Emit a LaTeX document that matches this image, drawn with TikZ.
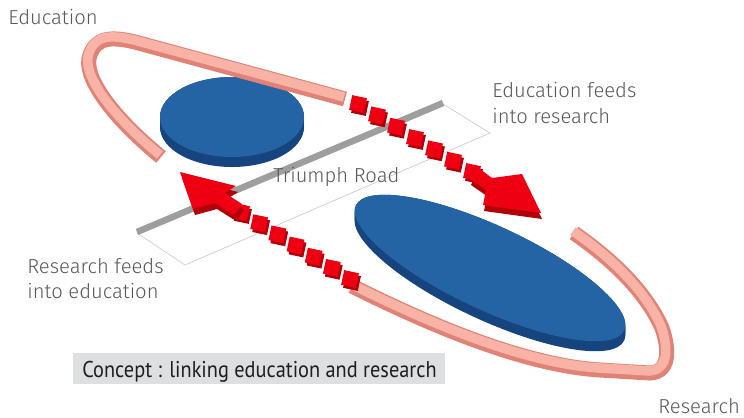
\documentclass[tikz,border=0pt]{standalone}
\usepackage{fontspec}
\setmainfont{Fira Sans}
\newfontfamily\labelfont{Fira Sans Light}
\newfontfamily\capfont{PT Sans}
\usetikzlibrary{calc}

\definecolor{tubetop}{RGB}{248,178,166}
\definecolor{tubeside}{RGB}{224,130,118}
\definecolor{disctop}{RGB}{36,99,164}
\definecolor{discside}{RGB}{22,68,126}
\definecolor{cubered}{RGB}{238,0,18}
\definecolor{cubedark}{RGB}{176,0,8}
\definecolor{roadgrey}{RGB}{158,158,158}
\definecolor{roadline}{RGB}{205,205,205}
\definecolor{labelgrey}{RGB}{88,88,88}
\definecolor{capbox}{RGB}{222,223,225}

\tikzset{
  lbl/.style={anchor=base west, inner sep=0pt, text=labelgrey, font=\labelfont\fontsize{11.5}{14}\selectfont},
  cube/.style={fill=cubered, minimum size=0.3cm, inner sep=0pt},
  cubeside/.style={fill=cubedark, minimum size=0.3cm, inner sep=0pt},
  tubeside/.style={draw=tubeside, line width=0.3cm},
  tubetop/.style={draw=tubetop, line width=0.19cm}
}

\begin{document}
\begin{tikzpicture}[x=0.02cm, y=-0.02cm]
    \useasboundingbox (0,0) rectangle (744,417);

    \draw [roadline, thin] (137,233) -- (185,265) -- (490,133) -- (443,104);
    \draw [roadgrey, line width=0.13cm] (137,232) -- (443,103);

    \foreach \s in {0,...,10}
        \fill [discside] (232,117+\s) ellipse [x radius=72, y radius=40];
    \fill [disctop] (232,117) ellipse [x radius=72, y radius=40];

    \foreach \s in {0,...,10}
        \fill [discside, rotate around={-25:(490,268+\s)}] (490,268+\s) ellipse [x radius=148, y radius=42];
    \fill [disctop, rotate around={-25:(490,268)}] (490,268) ellipse [x radius=148, y radius=42];

    \draw [tubeside] (161,157) .. controls (110,115) and (82,75) .. (90,55)
        .. controls (96,38) and (110,36) .. (135,42) -- (345,99);
    \draw [tubetop, shift={(-1,-2)}] (161,157) .. controls (110,115) and (82,75) .. (90,55)
        .. controls (96,38) and (110,36) .. (135,42) -- (345,99);

    \draw [tubeside] (352,286) .. controls (420,320) and (520,365) .. (600,370) -- (650,373)
        .. controls (672,372) and (668,345) .. (662,328) .. controls (645,290) and (610,258) .. (574,233);
    \draw [tubetop, shift={(-1,-2)}] (352,286) .. controls (420,320) and (520,365) .. (600,370) -- (650,373)
        .. controls (672,372) and (668,345) .. (662,328) .. controls (645,290) and (610,258) .. (574,233);

    \foreach \i in {0,...,6} {
        \coordinate (top\i) at ($(358,104)!\i/6!(472,172)$);
        \node [cubeside, rotate=-12] at ($(top\i)+(2,3)$) {};
        \node [cube, rotate=-12] (topcube\i) at (top\i) {};
    }
    \fill [cubedark, shift={(1,6)}] (476,166) -- (492,178) -- (522,174) -- (541,213)
        -- (483,205) -- (486,190) -- (470,179) -- cycle;
    \fill [cubered] (476,166) -- (492,178) -- (522,174) -- (541,213)
        -- (483,205) -- (486,190) -- (470,179) -- cycle;

    \foreach \i in {0,...,6} {
        \coordinate (bot\i) at ($(241,212)!\i/6!(350,279)$);
        \node [cubeside, rotate=-12] at ($(bot\i)+(2,3)$) {};
        \node [cube, rotate=-12] (botcube\i) at (bot\i) {};
    }
    \fill [cubedark, shift={(2,6)}] (180,172) -- (236,186) -- (225,193) -- (242,204)
        -- (234,215) -- (215,203) -- (193,209) -- cycle;
    \fill [cubered] (180,172) -- (236,186) -- (225,193) -- (242,204)
        -- (234,215) -- (215,203) -- (193,209) -- cycle;

    \node [lbl] (education) at (8,24) {Education};
    \node [lbl] (research) at (658,413) {Research};
    \node [lbl] (road) at (273,182) {Triumph Road};
    \node [lbl] (edfeeds) at (492,97) {Education feeds};
    \node [lbl] (edinto) at (492,123) {into research};
    \node [lbl] (resfeeds) at (27,273) {Research feeds};
    \node [lbl] (resinto) at (27,298) {into education};

    \fill [capbox] (73,353) rectangle (445,384);
    \node [anchor=base west, inner sep=0pt, xscale=0.89, transform shape,
        text={rgb,255:red,30;green,30;blue,30},
        font=\capfont\fontsize{13}{15}\selectfont] (concept) at (82,377) {Concept : linking education and research};
\end{tikzpicture}
\end{document}
